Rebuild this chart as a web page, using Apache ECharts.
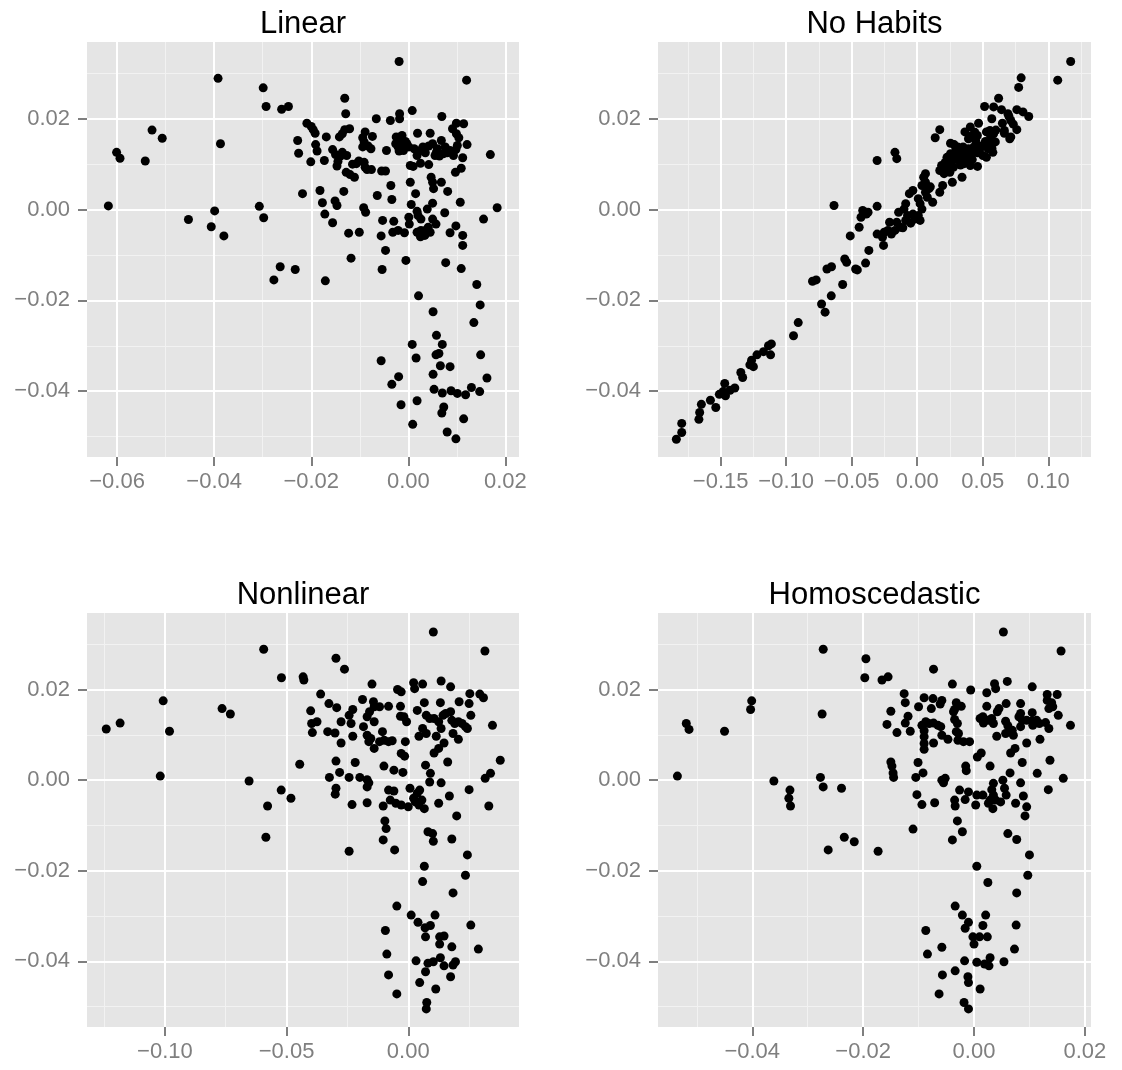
<!DOCTYPE html>
<html>
<head>
<meta charset="utf-8">
<script src="https://cdn.jsdelivr.net/npm/echarts@6/dist/echarts.min.js"></script>
<style>html,body{margin:0;padding:0;background:#fff}#c{width:1122px;height:1070px}</style>
</head>
<body>
<div id="c"></div>
<script>
// ---- Data ----
var panelTitles = ['Linear', 'No Habits', 'Nonlinear', 'Homoscedastic'];

var linearPts = [
[-0.0019,0.0326],[0.0120,0.0285],[-0.0392,0.0289],[-0.0299,0.0268],[-0.0293,0.0227],[-0.0261,0.0221],[-0.0247,0.0227],
[-0.0131,0.0245],[-0.0129,0.0211],[-0.0018,0.0211],[0.0008,0.0218],[-0.0018,0.0200],[-0.0066,0.0200],[-0.0037,0.0196],
[0.0069,0.0205],[0.0099,0.0190],[0.0114,0.0189],[0.0091,0.0178],[0.0099,0.0167],[0.0104,0.0158],[0.0121,0.0143],
[0.0112,0.0114],[0.0109,0.0091],[0.0097,0.0082],[0.0169,0.0121],[0.0107,0.0016],[0.0183,0.0004],[0.0155,-0.0021],
[0.0098,-0.0036],[0.0086,-0.0051],[0.0112,-0.0057],[0.0112,-0.0079],[0.0077,-0.0117],[0.0109,-0.0130],[0.0141,-0.0165],
[0.0148,-0.0210],[0.0135,-0.0249],[0.0149,-0.0320],[0.0162,-0.0371],[0.0021,-0.0190],[0.0051,-0.0225],[0.0058,-0.0277],
[0.0070,-0.0297],[0.0008,-0.0297],[0.0063,-0.0317],[0.0057,-0.0320],[0.0016,-0.0327],[-0.0056,-0.0333],[0.0066,-0.0344],
[0.0086,-0.0346],[0.0051,-0.0363],[-0.0020,-0.0368],[-0.0034,-0.0385],[0.0053,-0.0396],[0.0070,-0.0404],[0.0088,-0.0399],
[0.0101,-0.0405],[0.0118,-0.0408],[0.0130,-0.0392],[0.0147,-0.0401],[0.0018,-0.0421],[-0.0015,-0.0430],[0.0073,-0.0435],
[0.0069,-0.0448],[0.0114,-0.0461],[0.0009,-0.0473],[0.0080,-0.0490],[0.0098,-0.0505],
[-0.0618,0.0008],[-0.0601,0.0126],[-0.0594,0.0113],[-0.0542,0.0107],[-0.0528,0.0175],[-0.0507,0.0157],[-0.0453,-0.0022],
[-0.0406,-0.0038],[-0.0399,-0.0003],[-0.0380,-0.0058],[-0.0387,0.0145],[-0.0307,0.0007],[-0.0298,-0.0018],[-0.0277,-0.0155],
[-0.0264,-0.0126],[-0.0233,-0.0132],[-0.0218,0.0035],[-0.0228,0.0152],[-0.0226,0.0124],[-0.0209,0.0190],[-0.0200,0.0183],
[-0.0196,0.0176],[-0.0192,0.0168],[-0.0191,0.0143],[-0.0188,0.0129],[-0.0201,0.0105],[-0.0182,0.0042],[-0.0177,0.0015],
[-0.0172,-0.0010],[-0.0171,-0.0157],[-0.0173,0.0108],[-0.0169,0.0160],[-0.0156,0.0132],[-0.0150,0.0121],[-0.0145,0.0106],
[-0.0147,0.0096],[-0.0151,0.0019],[-0.0147,0.0009],[-0.0156,-0.0029],[-0.0142,0.0160],[-0.0136,0.0167],[-0.0131,0.0176],
[-0.0121,0.0178],[-0.0136,0.0126],[-0.0127,0.0119],[-0.0133,0.0040],[-0.0128,0.0082],[-0.0120,0.0077],[-0.0111,0.0071],
[-0.0123,-0.0052],[-0.0118,-0.0107],[-0.0107,0.0101],[-0.0102,0.0107],[-0.0101,-0.0050],[-0.0094,0.0158],[-0.0089,0.0171],
[-0.0091,0.0149],[-0.0094,0.0138],[-0.0091,0.0104],[-0.0089,0.0093],[-0.0085,0.0088],[-0.0076,0.0088],[-0.0074,0.0161],
[-0.0077,0.0134],[-0.0092,0.0004],[-0.0088,-0.0006],[-0.0064,0.0031],[-0.0055,0.0085],[-0.0047,0.0085],[-0.0045,0.0130],
[-0.0036,0.0053],[-0.0034,0.0022],[-0.0053,-0.0024],[-0.0056,-0.0058],[-0.0030,-0.0026],[-0.0032,-0.0050],[-0.0021,-0.0046],
[-0.0008,-0.0051],[-0.0047,-0.0090],[-0.0054,-0.0132],[-0.0005,-0.0112],[-0.0025,0.0160],[-0.0018,0.0152],[-0.0021,0.0138],
[-0.0026,0.0145],[-0.0013,0.0163],[-0.0014,0.0143],[-0.0010,0.0130],[-0.0019,0.0129],[-0.0003,0.0145],[0.0001,0.0138],
[0.0004,0.0097],[0.0004,0.0060],[0.0006,0.0011],[0.0001,-0.0017],[0.0002,-0.0032],[0.0015,0.0035],[0.0012,0.0134],
[0.0019,0.0168],[0.0018,0.0119],[0.0025,0.0102],[0.0030,0.0138],[0.0018,-0.0004],[0.0020,-0.0013],[0.0026,-0.0021],
[0.0018,-0.0050],[0.0026,-0.0046],[0.0034,-0.0057],[0.0035,-0.0046],[0.0041,-0.0039],[0.0045,-0.0050],[0.0039,0.0001],
[0.0050,0.0014],[0.0050,-0.0021],[0.0057,-0.0032],[0.0045,0.0168],[0.0042,0.0099],[0.0047,0.0071],[0.0050,0.0060],
[0.0052,0.0046],[0.0050,0.0145],[0.0055,0.0119],[0.0060,0.0134],[0.0068,0.0152],[0.0076,0.0138],[0.0072,0.0123],
[0.0068,0.0060],[0.0081,0.0040],[0.0075,-0.0007],[0.0086,0.0130],[0.0093,0.0119],[0.0098,0.0132],[0.0101,0.0141],
[0.0025,0.0130],[0.0035,0.0125],[0.0042,0.0140],[0.0058,0.0127],[0.0064,0.0118],[0.0080,0.0125],[-0.0140,0.0118],
[-0.0115,0.0100],[-0.0083,0.0140],[-0.0006,0.0150],[0.0010,0.0095],[0.0030,-0.0052],[0.0025,-0.0060]
];

var noHabitsPts = [
[0.1171,0.0326],[0.1072,0.0285],[0.0793,0.0290],[0.0774,0.0269],[0.0621,0.0245],[0.0514,0.0227],[0.0583,0.0226],
[0.0643,0.0220],[0.0760,0.0220],[0.0807,0.0215],[0.0851,0.0205],[0.0692,0.0211],[0.0569,0.0200],[0.0714,0.0196],
[0.0733,0.0188],[0.0760,0.0176],[0.0665,0.0168],[0.0714,0.0160],[0.0468,0.0190],[0.0405,0.0182],[0.0364,0.0171],
[0.0172,0.0176],[0.0137,0.0158],[-0.0170,0.0126],[-0.0156,0.0112],[-0.0306,0.0108],[0.0254,0.0146],[0.0282,0.0143],
[0.0295,0.0134],[0.0254,0.0123],[0.0227,0.0115],[0.0213,0.0104],[0.0186,0.0097],[0.0172,0.0086],[0.0205,0.0079],
[0.0249,0.0082],[0.0276,0.0093],[0.0268,0.0060],[0.0342,0.0071],[0.0194,0.0053],[0.0172,0.0038],[0.0336,0.0123],
[0.0364,0.0115],[0.0391,0.0108],[0.0405,0.0097],[0.0418,0.0123],[0.0391,0.0134],[0.0432,0.0138],[0.0446,0.0152],
[0.0459,0.0163],[0.0418,0.0163],[0.0391,0.0156],[0.0473,0.0130],[0.0501,0.0139],[0.0528,0.0115],[0.0542,0.0134],
[0.0555,0.0149],[0.0528,0.0171],[0.0555,0.0174],[0.0583,0.0167],[0.0596,0.0149],[0.0577,0.0126],[0.0501,0.0119],
[0.0309,0.0138],[0.0323,0.0126],[0.0295,0.0115],[0.0331,0.0108],[0.0358,0.0101],[0.0377,0.0130],[0.0350,0.0138],
[0.0665,0.0174],[0.0706,0.0156],[0.0063,0.0079],[0.0049,0.0071],[0.0063,0.0060],[0.0036,0.0053],[0.0090,0.0046],
[0.0077,0.0027],[0.0118,0.0016],[0.0063,0.0038],[-0.0033,0.0042],[-0.0060,0.0035],[-0.0088,0.0013],[-0.0101,0.0001],
[0.0008,0.0024],[0.0022,0.0013],[0.0036,0.0001],[-0.0033,-0.0010],[0.0008,-0.0013],[0.0022,-0.0024],[-0.0019,-0.0021],
[-0.0074,-0.0013],[-0.0088,-0.0024],[-0.0142,-0.0006],[-0.0156,-0.0028],[-0.0129,-0.0039],[-0.0170,-0.0046],[-0.0197,-0.0054],
[-0.0224,-0.0046],[-0.0252,-0.0050],[-0.0265,-0.0061],[-0.0306,-0.0054],[-0.0257,-0.0079],[-0.0211,-0.0028],[-0.0306,0.0007],
[-0.0635,0.0009],[-0.0416,-0.0002],[-0.0388,-0.0010],[-0.0375,-0.0006],[-0.0429,-0.0017],[-0.0443,-0.0039],[-0.0511,-0.0058],
[-0.0369,-0.0090],[-0.0394,-0.0118],[-0.0553,-0.0109],[-0.0539,-0.0116],[-0.0470,-0.0131],[-0.0457,-0.0133],[-0.0654,-0.0126],
[-0.0689,-0.0131],[-0.0771,-0.0155],[-0.0799,-0.0158],[-0.0569,-0.0165],[-0.0656,-0.0190],[-0.0730,-0.0208],[-0.0703,-0.0226],
[-0.0908,-0.0249],[-0.0944,-0.0278],[-0.1113,-0.0296],[-0.1135,-0.0300],[-0.1119,-0.0320],[-0.1173,-0.0313],[-0.1223,-0.0320],
[-0.1264,-0.0332],[-0.1250,-0.0346],[-0.1277,-0.0342],[-0.1346,-0.0359],[-0.1332,-0.0370],[-0.1392,-0.0393],[-0.1428,-0.0398],
[-0.1469,-0.0383],[-0.1482,-0.0401],[-0.1510,-0.0407],[-0.1463,-0.0410],[-0.1537,-0.0436],[-0.1578,-0.0420],[-0.1647,-0.0429],
[-0.1660,-0.0447],[-0.1666,-0.0462],[-0.1797,-0.0471],[-0.1797,-0.0491],[-0.1838,-0.0506],
[0.0300,0.0110],[0.0330,0.0098],[0.0380,0.0120],[0.0420,0.0110],[0.0460,0.0125],[0.0480,0.0140],[0.0520,0.0150],
[0.0560,0.0160],[0.0440,0.0170],[0.0350,0.0125],[0.0260,0.0105],[0.0230,0.0090],[0.0100,0.0050],[-0.0050,-0.0030],
[-0.0110,-0.0040],[0.0460,0.0095],[0.0570,0.0135],[0.0600,0.0175],[0.0650,0.0190],[0.0700,0.0205]
];

var nonlinearPts = [
[0.0103,0.0327],[0.0315,0.0285],[-0.0594,0.0289],[-0.0297,0.0269],[-0.0262,0.0245],[-0.0521,0.0226],[-0.0432,0.0228],
[-0.0429,0.0221],[-0.0149,0.0212],[0.0022,0.0215],[0.0059,0.0212],[0.0135,0.0219],[0.0174,0.0206],[0.0026,0.0202],
[-0.0044,0.0200],[-0.0029,0.0195],[-0.0360,0.0190],[-0.0188,0.0178],[0.0253,0.0191],[0.0294,0.0190],[0.0309,0.0182],
[0.0209,0.0173],[0.0250,0.0169],[-0.0326,0.0169],[-0.0294,0.0160],[-0.0401,0.0153],[-0.0143,0.0173],[-0.0081,0.0163],
[-0.0032,0.0163],[0.0066,0.0171],[0.0132,0.0171],[-0.1007,0.0175],[-0.0765,0.0158],[-0.0731,0.0146],[-0.1184,0.0126],
[-0.1241,0.0113],[-0.0981,0.0108],[-0.1019,0.0009],[-0.0654,-0.0002],[-0.0446,0.0035],[-0.0522,-0.0022],[-0.0482,-0.0040],
[-0.0578,-0.0057],[-0.0585,-0.0126],[-0.0243,-0.0157],[-0.0397,0.0125],[-0.0375,0.0129],[-0.0394,0.0105],[-0.0331,0.0107],
[-0.0301,0.0104],[-0.0276,0.0129],[-0.0276,0.0082],[-0.0243,0.0143],[-0.0228,0.0156],[-0.0235,0.0125],[-0.0228,0.0097],
[-0.0218,0.0039],[-0.0297,0.0042],[-0.0282,0.0017],[-0.0324,0.0006],[-0.0297,-0.0018],[-0.0300,-0.0031],[-0.0243,0.0006],
[-0.0231,-0.0054],[-0.0199,0.0006],[-0.0169,0.0001],[-0.0162,-0.0006],[-0.0169,-0.0015],[-0.0169,-0.0050],[-0.0184,0.0118],
[-0.0169,0.0140],[-0.0159,0.0151],[-0.0140,0.0162],[-0.0140,0.0129],[-0.0169,0.0099],[-0.0162,0.0085],[-0.0154,0.0092],
[-0.0140,0.0070],[-0.0118,0.0162],[-0.0106,0.0107],[-0.0099,0.0088],[-0.0066,0.0087],[-0.0100,0.0031],[-0.0059,0.0022],
[-0.0022,0.0017],[-0.0081,-0.0022],[-0.0059,-0.0024],[-0.0103,-0.0057],[-0.0074,-0.0044],[-0.0051,-0.0051],[-0.0029,-0.0055],
[0.0000,-0.0059],[0.0007,-0.0018],[0.0022,-0.0040],[0.0037,-0.0029],[0.0047,-0.0022],[0.0056,-0.0044],[0.0066,-0.0063],
[0.0044,-0.0055],[0.0029,-0.0048],[-0.0096,-0.0090],[-0.0091,-0.0107],[-0.0103,-0.0132],[-0.0056,-0.0154],[0.0081,-0.0114],
[0.0100,-0.0118],[0.0103,-0.0135],[0.0179,-0.0130],[0.0199,-0.0079],[0.0169,-0.0035],[0.0125,-0.0051],[0.0135,-0.0006],
[0.0250,-0.0021],[0.0331,-0.0057],[0.0316,0.0004],[0.0338,0.0015],[0.0378,0.0044],[0.0346,0.0121],[0.0243,-0.0165],
[0.0235,-0.0210],[0.0184,-0.0249],[0.0066,-0.0190],[0.0059,-0.0224],[-0.0047,-0.0278],[0.0012,-0.0298],[0.0040,-0.0314],
[0.0069,-0.0326],[0.0091,-0.0321],[0.0110,-0.0298],[0.0071,-0.0346],[0.0129,-0.0346],[0.0147,-0.0344],[0.0129,-0.0362],
[0.0179,-0.0368],[0.0257,-0.0320],[0.0288,-0.0373],[-0.0094,-0.0332],[-0.0088,-0.0384],[-0.0081,-0.0430],[-0.0047,-0.0472],
[0.0032,-0.0399],[0.0081,-0.0404],[0.0103,-0.0401],[0.0132,-0.0392],[0.0147,-0.0410],[0.0184,-0.0408],[0.0194,-0.0401],
[0.0071,-0.0423],[0.0047,-0.0447],[0.0174,-0.0434],[0.0113,-0.0461],[0.0076,-0.0491],[0.0074,-0.0505],
[0.0037,0.0154],[0.0074,0.0143],[0.0088,0.0136],[0.0106,0.0136],[0.0125,0.0129],[0.0143,0.0143],[0.0154,0.0147],
[0.0174,0.0151],[0.0179,0.0132],[0.0191,0.0125],[0.0206,0.0129],[0.0221,0.0125],[0.0235,0.0118],[0.0257,0.0143],
[0.0243,0.0114],[0.0059,0.0114],[0.0074,0.0103],[0.0044,0.0097],[0.0115,0.0097],[0.0135,0.0114],[0.0147,0.0082],
[0.0125,0.0070],[0.0106,0.0060],[0.0071,0.0033],[0.0091,0.0015],[0.0088,-0.0004],[0.0162,0.0040],[0.0184,0.0103],
[0.0206,0.0090],[-0.0018,0.0140],[-0.0007,0.0129],[-0.0032,0.0141],[-0.0029,0.0059],[-0.0015,0.0053],[-0.0012,0.0085],
[-0.0081,0.0085],[-0.0118,0.0085]
];

var homoscedasticPts = [
[0.0053,0.0327],[0.0157,0.0285],[-0.0272,0.0289],[-0.0195,0.0268],[-0.0073,0.0245],[-0.0197,0.0226],[-0.0166,0.0221],
[-0.0155,0.0228],[-0.0039,0.0212],[-0.0006,0.0199],[0.0037,0.0213],[0.0039,0.0202],[0.0060,0.0218],[0.0105,0.0206],
[0.0023,0.0193],[0.0132,0.0189],[0.0150,0.0189],[-0.0126,0.0191],[-0.0090,0.0182],[-0.0124,0.0171],[-0.0074,0.0180],
[-0.0058,0.0176],[-0.0061,0.0168],[-0.0100,0.0162],[-0.0077,0.0158],[-0.0032,0.0171],[-0.0023,0.0163],[-0.0035,0.0156],
[0.0023,0.0163],[0.0058,0.0169],[0.0084,0.0169],[0.0132,0.0176],[0.0140,0.0171],[0.0142,0.0162],[0.0135,0.0158],
[-0.0150,0.0152],[-0.0119,0.0141],[-0.0157,0.0123],[-0.0124,0.0126],[-0.0139,0.0105],[-0.0115,0.0108],[-0.0094,0.0121],
[-0.0090,0.0109],[-0.0087,0.0129],[-0.0081,0.0125],[-0.0073,0.0126],[-0.0065,0.0121],[-0.0060,0.0118],[-0.0090,0.0096],
[-0.0090,0.0081],[-0.0090,0.0068],[-0.0073,0.0082],[-0.0058,0.0099],[-0.0047,0.0090],[-0.0037,0.0151],[-0.0035,0.0134],
[-0.0030,0.0125],[-0.0032,0.0107],[-0.0028,0.0103],[-0.0029,0.0088],[-0.0019,0.0085],[-0.0008,0.0085],[0.0011,0.0136],
[0.0016,0.0140],[0.0017,0.0126],[0.0026,0.0132],[0.0032,0.0136],[0.0035,0.0125],[0.0042,0.0151],[0.0045,0.0158],
[0.0041,0.0097],[0.0057,0.0130],[0.0061,0.0120],[0.0069,0.0110],[0.0071,0.0099],[0.0057,0.0103],[0.0074,0.0070],
[0.0066,0.0060],[0.0081,0.0140],[0.0084,0.0147],[0.0087,0.0132],[0.0084,0.0118],[0.0095,0.0132],[0.0105,0.0149],
[0.0105,0.0131],[0.0106,0.0121],[0.0113,0.0132],[0.0118,0.0125],[0.0129,0.0127],[0.0135,0.0114],[0.0119,0.0090],
[0.0095,0.0082],[0.0152,0.0143],[0.0174,0.0121],[0.0087,0.0039],[0.0137,0.0044],[0.0114,0.0015],[0.0161,0.0004],
[0.0134,-0.0021],[0.0084,-0.0006],[0.0089,-0.0035],[0.0095,-0.0059],[0.0092,-0.0079],[0.0075,-0.0051],[0.0061,-0.0118],
[0.0077,-0.0131],[0.0100,-0.0165],[0.0097,-0.0210],[0.0077,-0.0249],[0.0065,0.0016],[0.0052,0.0000],[0.0055,-0.0018],
[0.0058,-0.0033],[0.0048,-0.0048],[0.0029,0.0031],[0.0035,-0.0007],[0.0032,-0.0021],[0.0035,-0.0033],[0.0029,-0.0044],
[0.0026,-0.0051],[0.0034,-0.0063],[0.0039,-0.0044],[0.0016,-0.0033],[0.0006,0.0051],[0.0013,0.0060],[0.0005,-0.0033],
[0.0003,-0.0055],[-0.0010,-0.0026],[-0.0016,-0.0043],[-0.0026,-0.0022],[-0.0035,-0.0044],[-0.0034,-0.0057],[-0.0030,-0.0090],
[-0.0021,-0.0114],[-0.0039,-0.0132],[-0.0015,0.0031],[-0.0014,0.0021],[-0.0052,0.0004],[-0.0055,-0.0006],[-0.0058,0.0000],
[-0.0071,-0.0050],[-0.0094,-0.0054],[-0.0103,-0.0032],[-0.0105,0.0006],[-0.0092,0.0016],[-0.0101,0.0039],[-0.0110,-0.0108],
[-0.0150,0.0040],[-0.0148,0.0031],[-0.0146,0.0016],[-0.0145,0.0006],[-0.0173,-0.0157],[-0.0234,-0.0126],[-0.0216,-0.0136],
[-0.0263,-0.0154],[-0.0239,-0.0018],[-0.0277,0.0006],[-0.0272,-0.0015],[-0.0274,0.0146],[-0.0332,-0.0022],[-0.0334,-0.0040],
[-0.0331,-0.0057],[-0.0361,-0.0002],[-0.0401,0.0175],[-0.0403,0.0156],[-0.0450,0.0108],[-0.0519,0.0125],[-0.0514,0.0112],
[-0.0535,0.0009],
[0.0005,-0.0190],[0.0025,-0.0226],[-0.0034,-0.0278],[-0.0021,-0.0298],[-0.0010,-0.0314],[-0.0016,-0.0327],[0.0021,-0.0298],
[0.0016,-0.0321],[-0.0002,-0.0346],[0.0010,-0.0346],[0.0024,-0.0346],[0.0000,-0.0362],[0.0076,-0.0320],[0.0073,-0.0373],
[-0.0087,-0.0332],[-0.0084,-0.0384],[-0.0058,-0.0369],[-0.0057,-0.0430],[-0.0063,-0.0472],[-0.0034,-0.0421],[-0.0017,-0.0399],
[-0.0011,-0.0434],[-0.0010,-0.0447],[0.0005,-0.0402],[0.0019,-0.0406],[0.0027,-0.0410],[0.0029,-0.0392],[0.0054,-0.0401],
[0.0011,-0.0461],[-0.0018,-0.0491],[-0.0010,-0.0505]
];

// axis ranges (ggplot expanded)
var xRange = [[-0.0662, 0.0228], [-0.1978, 0.1326], [-0.1320, 0.0455], [-0.0570, 0.0211]];
var yRange = [-0.0545, 0.0369];

// tick values
var xMajor = [[-0.06, -0.04, -0.02, 0.00, 0.02],
              [-0.15, -0.10, -0.05, 0.00, 0.05, 0.10],
              [-0.10, -0.05, 0.00],
              [-0.04, -0.02, 0.00, 0.02]];
var xMinor = [[-0.05, -0.03, -0.01, 0.01],
              [-0.175, -0.125, -0.075, -0.025, 0.025, 0.075, 0.125],
              [-0.125, -0.075, -0.025, 0.025],
              [-0.05, -0.03, -0.01, 0.01]];
var yMajor = [0.02, 0.00, -0.02, -0.04];
var yMinor = [0.03, 0.01, -0.01, -0.03, -0.05];

var allPts = [linearPts, noHabitsPts, nonlinearPts, homoscedasticPts];

// ---- Layout ----
var grids = [
  {left: 87, top: 42, width: 432, height: 415},
  {left: 658, top: 42, width: 433, height: 415},
  {left: 87, top: 613, width: 432, height: 414},
  {left: 658, top: 613, width: 433, height: 414}
];
var titleY = [24, 24, 595, 595];

var FONT = '"Liberation Sans", Arial, Helvetica, sans-serif';
function fmt(v) {
  var s = Math.abs(v).toFixed(2);
  return (v < -1e-9 ? '\u2212' : '') + s;
}

var option = {
  animation: false,
  backgroundColor: '#ffffff',
  title: [], grid: [], xAxis: [], yAxis: [], series: []
};

for (var i = 0; i < 4; i++) {
  var g = grids[i];
  option.grid.push({
    left: g.left, top: g.top, width: g.width, height: g.height,
    show: true, backgroundColor: '#E5E5E5', borderWidth: 0, containLabel: false
  });
  option.title.push({
    text: panelTitles[i],
    left: g.left + g.width / 2, top: titleY[i],
    textAlign: 'center', textVerticalAlign: 'middle', padding: 0,
    textStyle: {fontFamily: FONT, fontSize: 31, fontWeight: 'normal', color: '#000000'}
  });
  // minor x axis (drawn first)
  option.xAxis.push({
    type: 'value', gridIndex: i, min: xRange[i][0], max: xRange[i][1], position: 'bottom', z: 0,
    axisLine: {show: false, onZero: false}, axisLabel: {show: false},
    axisTick: {show: false, customValues: xMinor[i]},
    splitLine: {show: true, lineStyle: {color: '#F2F2F2', width: 1}}
  });
  // major x axis
  option.xAxis.push({
    type: 'value', gridIndex: i, min: xRange[i][0], max: xRange[i][1], position: 'bottom', z: 1,
    axisLine: {show: false, onZero: false},
    axisTick: {show: true, inside: false, length: 9, customValues: xMajor[i], lineStyle: {color: '#7F7F7F', width: 2}},
    axisLabel: {show: true, customValues: xMajor[i], margin: 14, formatter: fmt,
      fontFamily: FONT, fontSize: 22, color: '#7F7F7F'},
    splitLine: {show: true, lineStyle: {color: '#FFFFFF', width: 2}}
  });
  option.yAxis.push({
    type: 'value', gridIndex: i, min: yRange[0], max: yRange[1], position: 'left', z: 0,
    axisLine: {show: false, onZero: false}, axisLabel: {show: false},
    axisTick: {show: false, customValues: yMinor},
    splitLine: {show: true, lineStyle: {color: '#F2F2F2', width: 1}}
  });
  option.yAxis.push({
    type: 'value', gridIndex: i, min: yRange[0], max: yRange[1], position: 'left', z: 1,
    axisLine: {show: false, onZero: false},
    axisTick: {show: true, inside: false, length: 9, customValues: yMajor, lineStyle: {color: '#7F7F7F', width: 2}},
    axisLabel: {show: true, customValues: yMajor, margin: 17, formatter: fmt,
      fontFamily: FONT, fontSize: 22, color: '#7F7F7F'},
    splitLine: {show: true, lineStyle: {color: '#FFFFFF', width: 2}}
  });
  option.series.push({
    type: 'scatter', xAxisIndex: 2 * i + 1, yAxisIndex: 2 * i + 1,
    data: allPts[i], symbol: 'circle', symbolSize: 9, z: 5,
    itemStyle: {color: '#000000', opacity: 1},
    emphasis: {disabled: true}, silent: true
  });
}

var chart = echarts.init(document.getElementById('c'), null, {renderer: 'canvas'});
chart.setOption(option);
</script>
</body>
</html>
